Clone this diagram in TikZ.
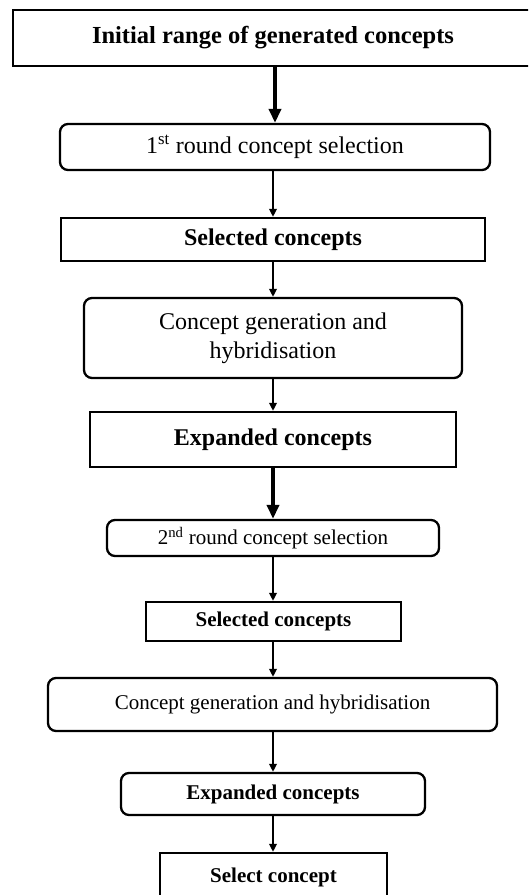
\documentclass[tikz,border=0pt]{standalone}
\usepackage{fontspec}
\setmainfont{Liberation Serif}
\usetikzlibrary{arrows.meta}

\tikzset{
  box/.style={draw=black, line width=2.3pt, fill=white, inner sep=0pt, align=center, text=black},
  sqbox/.style={box},
  rbox/.style={box, rounded corners=8pt},
  big/.style={font=\fontsize{24}{28}\selectfont},
  small/.style={font=\fontsize{21}{25}\selectfont},
  thickarrow/.style={line width=3.6pt, -{Triangle[length=14pt, width=12pt]}},
  thinarrow/.style={line width=2.2pt, -{Triangle[length=8pt, width=7.5pt]}},
}

\begin{document}
\begin{tikzpicture}[x=1pt, y=-1pt]
  \useasboundingbox (0,0) rectangle (528,895);
  \clip (0,0) rectangle (528,895);

  % upper stage
  \node[sqbox, line width=2.7pt, minimum width=520pt, minimum height=56pt,
        font=\fontsize{24.5}{29}\selectfont\bfseries] (init) at (273,38)
        {Initial range of generated concepts};
  \node[rbox, big, minimum width=430pt, minimum height=46pt] (sel1) at (275,147)
        {1\textsuperscript{st} round concept selection};
  \node[sqbox, big, minimum width=424pt, minimum height=43pt] (chosen1) at (273,239.5)
        {\bfseries Selected concepts};
  \node[rbox, big, minimum width=378pt, minimum height=80pt] (gen1) at (273,338)
        {Concept generation and\\[1pt]hybridisation};
  \node[sqbox, big, minimum width=366pt, minimum height=55pt] (exp1) at (273,439.5)
        {\bfseries Expanded concepts};

  % lower stage
  \node[rbox, small, minimum width=332pt, minimum height=36pt] (sel2) at (273,538)
        {2\textsuperscript{nd} round concept selection};
  \node[sqbox, small, minimum width=255pt, minimum height=39pt] (chosen2) at (273.5,621.5)
        {\bfseries Selected concepts};
  \node[rbox, small, minimum width=449pt, minimum height=53pt] (gen2) at (272.5,704.5)
        {Concept generation and hybridisation};
  \node[rbox, small, minimum width=304pt, minimum height=42pt] (exp2) at (273,794)
        {\bfseries Expanded concepts};
  \node[sqbox, small, minimum width=227pt, minimum height=48pt] (final) at (273.5,877)
        {\bfseries Select concept};

  % connectors
  \draw[thickarrow] (init.south -| sel1.north) -- (sel1.north);
  \draw[thinarrow] (sel1.south -| chosen1.north) -- (chosen1.north);
  \draw[thinarrow] (chosen1.south) -- (gen1.north);
  \draw[thinarrow] (gen1.south) -- (exp1.north);
  \draw[thickarrow] (exp1.south) -- (sel2.north);
  \draw[thinarrow] (sel2.south) -- (chosen2.north -| sel2.south);
  \draw[thinarrow] (chosen2.south -| sel2.south) -- (gen2.north -| sel2.south);
  \draw[thinarrow] (gen2.south -| exp2.north) -- (exp2.north);
  \draw[thinarrow] (exp2.south) -- (final.north -| exp2.south);
\end{tikzpicture}
\end{document}
